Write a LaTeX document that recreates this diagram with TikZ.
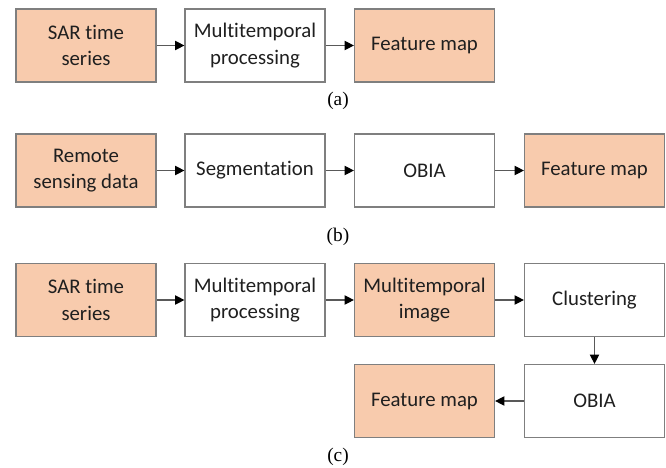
\documentclass[tikz,border=0pt]{standalone}
\usepackage{fontspec}
\setmainfont{Liberation Serif}
\newfontfamily\boxfont[Ligatures=NoCommon]{Carlito}
\usetikzlibrary{arrows.meta}
\definecolor{peach}{HTML}{F8CBAD}
\definecolor{edgegray}{HTML}{7F7F7F}
\definecolor{txt}{HTML}{1F1F1F}
\tikzset{
  px/.style={x=0.75pt,y=-0.75pt},
  blk/.style={draw=edgegray,line width=0.9pt,minimum width=105pt,minimum height=54.75pt,
    inner sep=0pt,align=center,text=txt,font=\boxfont\fontsize{15.6}{20}\selectfont},
  hot/.style={blk,fill=peach},
  cold/.style={blk,fill=white},
  conn/.style={draw=edgegray!70!black,line width=0.9pt,-{Triangle[length=7pt,width=7pt,fill=black,color=black]}},
  captxt/.style={font=\fontsize{14.5}{16}\selectfont,text=black}
}
\begin{document}
\begin{tikzpicture}[px]
\useasboundingbox (0,0) rectangle (666,467);
% (a)
\node[hot]  (a1) at (86,45.5)    {SAR time\\series};
\node[cold] (a2) at (255,45.5)   {Multitemporal\\processing};
\node[hot]  (a3) at (424.5,45.5) {Feature map};
\draw[conn] (a1) -- (a2);
\draw[conn] (a2) -- (a3);
\node[captxt] (la) at (338,101) {(a)};
% (b)
\node[hot]  (b1) at (86,170.5)    {Remote\\sensing data};
\node[cold] (b2) at (255,170.5)   {Segmentation};
\node[cold] (b3) at (424.5,170.5) {OBIA};
\node[hot]  (b4) at (594.5,170.5) {Feature map};
\draw[conn] (b1) -- (b2);
\draw[conn] (b2) -- (b3);
\draw[conn] (b3) -- (b4);
\node[captxt] (lb) at (338,237) {(b)};
% (c)
\node[hot]  (c1) at (86,300)    {SAR time\\series};
\node[cold] (c2) at (255,300)   {Multitemporal\\processing};
\node[hot]  (c3) at (424.5,300) {Multitemporal\\image};
\node[cold] (c4) at (594.5,300) {Clustering};
\node[cold] (c5) at (594.5,401) {OBIA};
\node[hot]  (c6) at (424.5,401) {Feature map};
\draw[conn] (c1) -- (c2);
\draw[conn] (c2) -- (c3);
\draw[conn] (c3) -- (c4);
\draw[conn] (c4) -- (c5);
\draw[conn] (c5) -- (c6);
\node[captxt] (lc) at (338,457) {(c)};
\end{tikzpicture}
\end{document}
